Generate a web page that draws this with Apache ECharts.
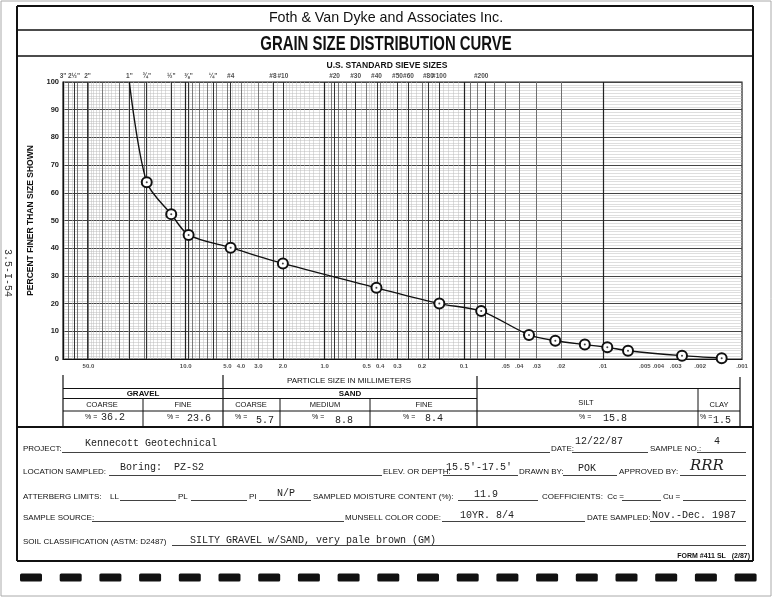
<!DOCTYPE html>
<html>
<head>
<meta charset="utf-8">
<script src="https://cdn.jsdelivr.net/npm/echarts@6/dist/echarts.min.js"></script>
<style>
  html, body { margin: 0; padding: 0; background: #fff; }
  #chart { width: 777px; height: 600px; }
</style>
</head>
<body>
<div id="chart"></div>
<script>
// U.S. standard sieves: opening (mm) and label along the top
const sieveLabels = ['3"', '2½"', '2"', '1"', '¾"', '½"', '⅜"', '¼"', '#4', '#8', '#10', '#20', '#30', '#40', '#50', '#60', '#80', '#100', '#200']
const sieveSizes = [76.2, 63.5, 50.8, 25.4, 19.05, 12.7, 9.525, 6.35, 4.75, 2.36, 2.0, 0.85, 0.6, 0.425, 0.3, 0.25, 0.18, 0.15, 0.075]

// particle size labels along the bottom (mm)
const sizeTicks = [50, 10, 5, 4, 3, 2, 1, 0.5, 0.4, 0.3, 0.2, 0.1, 0.05, 0.04, 0.03, 0.02, 0.01, 0.005, 0.004, 0.003, 0.002, 0.001]
const sizeTickLabels = ['50.0', '10.0', '5.0', '4.0', '3.0', '2.0', '1.0', '0.5', '0.4', '0.3', '0.2', '0.1', '.05', '.04', '.03', '.02', '.01', '.005', '.004', '.003', '.002', '.001']

// test results: grain size (mm) vs percent finer
const grainSize = [25.4, 19.05, 12.7, 9.525, 4.75, 2.0, 0.425, 0.15, 0.075, 0.034, 0.022, 0.0135, 0.0093, 0.0066, 0.0027, 0.0014]
const percentFiner = [100, 63.8, 52.3, 44.8, 40.2, 34.5, 25.7, 20.0, 17.3, 8.7, 6.6, 5.2, 4.2, 3.0, 1.2, 0.3]

// gradation table (gravel coarse/fine, sand coarse/medium/fine, silt, clay)
const fractionPct = ['36.2', '23.6', '5.7', '8.8', '8.4', '15.8', '1.5']

// semi-log graph paper rulings inside each decade
const paperDecades = [-3, -2, -1, 0, 1]
const paperMid = [2, 3, 4, 5, 6, 7, 8, 9]
const paperFine = [1.1, 1.2, 1.3, 1.4, 1.5, 1.6, 1.7, 1.8, 1.9, 2.2, 2.4, 2.6, 2.8, 3.2, 3.4, 3.6, 3.8, 4.2, 4.4, 4.6, 4.8, 5.5, 6.5, 7.5, 8.5, 9.5]

const X_MIN = 0.001
const X_MAX = 76.2
const SANS = '"Liberation Sans", Arial, sans-serif'
const MONO = '"Liberation Mono", "DejaVu Sans Mono", monospace'

const paperLines = (mults) => {
  const out = []
  paperDecades.forEach(d => {
    mults.forEach(m => {
      const v = m * Math.pow(10, d)
      if (v >= X_MIN * 0.999 && v <= X_MAX) out.push({ xAxis: v })
    })
  })
  return out
}

const ruleSeries = (data, color, width) => ({
  type: 'line',
  data: [],
  silent: true,
  z: 1,
  markLine: {
    silent: true,
    animation: false,
    symbol: ['none', 'none'],
    label: { show: false },
    lineStyle: { color, width, type: 'solid' },
    data
  }
})

// --- form drawing helpers ---
const measureCtx = document.createElement('canvas').getContext('2d')
const fontOf = o => (o.italic ? 'italic ' : '') + (o.bold ? 'bold ' : '') + (o.size || 8) + 'px ' + (o.family || SANS)

const gLine = (x1, y1, x2, y2, w, c) => ({
  type: 'line', silent: true, z: 10,
  shape: { x1, y1, x2, y2 },
  style: { stroke: c || '#111', lineWidth: w || 1 }
})
const gText = (x, y, text, o = {}) => ({
  type: 'text', silent: true, z: 10,
  x, y,
  rotation: o.rot || 0,
  style: {
    text,
    fill: o.color || '#111',
    font: fontOf(o),
    textAlign: o.align || 'left',
    textVerticalAlign: 'middle'
  }
})
// horizontally squeezed, centred text (condensed type on the form)
const gTextSqueezed = (cx, y, text, o) => {
  measureCtx.font = fontOf(o)
  const w = measureCtx.measureText(text).width * o.sx
  return {
    type: 'text', silent: true, z: 10,
    x: cx - w / 2, y,
    scaleX: o.sx,
    style: { text, fill: o.color || '#111', font: fontOf(o), textAlign: 'left', textVerticalAlign: 'middle' }
  }
}
const label = (x, y, t) => gText(x, y, t, { size: 8 })
const typed = (x, y, t) => gText(x, y, t, { size: 10, family: MONO, color: '#222' })

const G = []

// scan frame and form border
G.push({ type: 'rect', silent: true, z: 0, shape: { x: 1, y: 1, width: 770, height: 595 }, style: { fill: 'none', stroke: '#aaa', lineWidth: 1 } })
G.push(gLine(17, 6, 753, 6, 2))
G.push(gLine(17, 6, 17, 561, 2))
G.push(gLine(753, 6, 753, 561, 2))
G.push(gLine(17, 30, 753, 30, 1.5))
G.push(gLine(17, 56, 753, 56, 1.5))
G.push(gLine(17, 427, 753, 427, 2))
G.push(gLine(17, 561, 753, 561, 2))

// header
G.push(gTextSqueezed(386, 18, 'Foth & Van Dyke and Associates Inc.', { size: 15, sx: 0.95 }))
G.push(gTextSqueezed(386, 44, 'GRAIN SIZE DISTRIBUTION CURVE', { size: 20, bold: true, sx: 0.745 }))
G.push(gTextSqueezed(387, 65, 'U.S. STANDARD SIEVE SIZES', { size: 9.5, bold: true, sx: 0.9 }))
G.push(gText(8, 273, '3.5-I-54', { size: 10, family: MONO, rot: -Math.PI / 2, align: 'center', color: '#333' }))

// gradation table
G.push(gLine(63, 375, 63, 427, 1.2))
G.push(gLine(223, 375, 223, 427, 1.2))
G.push(gLine(477, 376, 477, 427, 1.2))
G.push(gLine(740, 377, 740, 427, 1.2))
G.push(gLine(63, 388.5, 740, 388.5, 1))
G.push(gLine(63, 398.5, 477, 398.5, 1))
G.push(gLine(63, 411, 740, 411, 1))
G.push(gLine(143, 398.5, 143, 427, 1))
G.push(gLine(280, 398.5, 280, 427, 1))
G.push(gLine(370, 398.5, 370, 427, 1))
G.push(gLine(698, 388.5, 698, 427, 1))
G.push(gText(349, 381, 'PARTICLE SIZE IN MILLIMETERS', { size: 8, align: 'center' }))
G.push(gText(143, 393.5, 'GRAVEL', { size: 8, bold: true, align: 'center' }))
G.push(gText(350, 393.5, 'SAND', { size: 8, bold: true, align: 'center' }))
;[['COARSE', 102], ['FINE', 183], ['COARSE', 251], ['MEDIUM', 325], ['FINE', 424]].forEach(([t, x]) => {
  G.push(gText(x, 405, t, { size: 7.5, align: 'center' }))
})
G.push(gText(586, 403, 'SILT', { size: 7.5, align: 'center' }))
G.push(gText(719, 405, 'CLAY', { size: 7.5, align: 'center' }))
const pctLabelX = [85, 167, 235, 312, 403, 579, 700]
const pctValueX = [101, 187, 256, 335, 425, 603, 713]
const pctValueY = [417.5, 418.5, 420, 420, 418, 418.5, 420]
fractionPct.forEach((v, i) => {
  G.push(gText(pctLabelX[i], 417.5, '% =', { size: 7 }))
  G.push(typed(pctValueX[i], pctValueY[i], v))
})

// form fields
// row 1
G.push(label(23, 449, 'PROJECT:'))
G.push(gLine(62, 452.5, 550, 452.5, 0.8))
G.push(typed(85, 443, 'Kennecott Geotechnical'))
G.push(label(551, 449, 'DATE:'))
G.push(gLine(572, 452.5, 648, 452.5, 0.8))
G.push(typed(575, 441, '12/22/87'))
G.push(label(650, 449, 'SAMPLE NO.:'))
G.push(gLine(697, 452.5, 746, 452.5, 0.8))
G.push(typed(714, 441, '4'))
// row 2
G.push(label(23, 472, 'LOCATION SAMPLED:'))
G.push(gLine(109, 475.5, 382, 475.5, 0.8))
G.push(typed(120, 467, 'Boring:  PZ-S2'))
G.push(label(383, 472, 'ELEV. OR DEPTH:'))
G.push(gLine(443, 475.5, 518, 475.5, 0.8))
G.push(typed(446, 467, "15.5'-17.5'"))
G.push(label(519, 472, 'DRAWN BY:'))
G.push(gLine(563, 475.5, 617, 475.5, 0.8))
G.push(typed(578, 468, 'POK'))
G.push(label(619, 472, 'APPROVED BY:'))
G.push(gLine(680, 475.5, 746, 475.5, 0.8))
G.push(gText(690, 466, 'RRR', { size: 15, italic: true, family: '"DejaVu Serif", serif', color: '#222' }))
// row 3
G.push(label(23, 497, 'ATTERBERG LIMITS:'))
G.push(label(110, 497, 'LL'))
G.push(gLine(120, 500.5, 176, 500.5, 0.8))
G.push(label(178, 497, 'PL'))
G.push(gLine(191, 500.5, 247, 500.5, 0.8))
G.push(label(249, 497, 'PI'))
G.push(gLine(259, 500.5, 311, 500.5, 0.8))
G.push(typed(277, 493, 'N/P'))
G.push(label(313, 497, 'SAMPLED MOISTURE CONTENT (%):'))
G.push(gLine(458, 500.5, 538, 500.5, 0.8))
G.push(typed(474, 494, '11.9'))
G.push(label(542, 497, 'COEFFICIENTS:  Cc ='))
G.push(gLine(622, 500.5, 661, 500.5, 0.8))
G.push(label(663, 497, 'Cu ='))
G.push(gLine(683, 500.5, 746, 500.5, 0.8))
// row 4
G.push(label(23, 518, 'SAMPLE SOURCE:'))
G.push(gLine(92, 521.5, 344, 521.5, 0.8))
G.push(label(345, 518, 'MUNSELL COLOR CODE:'))
G.push(gLine(442, 521.5, 585, 521.5, 0.8))
G.push(typed(460, 515, '10YR. 8/4'))
G.push(label(587, 518, 'DATE SAMPLED:'))
G.push(gLine(650, 521.5, 746, 521.5, 0.8))
G.push(typed(652, 515, 'Nov.-Dec. 1987'))
// row 5
G.push(label(23, 542, 'SOIL CLASSIFICATION (ASTM: D2487)'))
G.push(gLine(172, 545.5, 746, 545.5, 0.8))
G.push(typed(190, 540, 'SILTY GRAVEL w/SAND, very pale brown (GM)'))
G.push(gText(750, 556, 'FORM #411 SL   (2/87)', { size: 7, bold: true, align: 'right' }))

// perforation marks along the bottom
for (let i = 0; i < 19; i++) {
  G.push({ type: 'rect', silent: true, z: 10, shape: { x: 20 + i * 39.7, y: 573.5, width: 22, height: 8, r: 1.5 }, style: { fill: '#111' } })
}

const chart = echarts.init(document.getElementById('chart'))

const option = {
  backgroundColor: '#fff',
  animation: false,
  grid: {
    left: 63, right: 35, top: 82, bottom: 241,
    show: true, borderColor: '#222', borderWidth: 1.2
  },
  xAxis: {
    type: 'log',
    logBase: 10,
    inverse: true,
    min: X_MIN,
    max: X_MAX,
    axisLine: { show: true, lineStyle: { color: '#111', width: 1.2 } },
    axisTick: { show: false },
    axisLabel: { show: false },
    splitLine: { show: false }
  },
  yAxis: {
    type: 'value',
    min: 0,
    max: 100,
    interval: 10,
    name: 'PERCENT FINER THAN SIZE SHOWN',
    nameLocation: 'middle',
    nameGap: 26,
    nameTextStyle: { fontSize: 8.5, fontWeight: 'bold', color: '#111', fontFamily: SANS },
    axisLine: { show: true, lineStyle: { color: '#111', width: 1.2 } },
    axisTick: { show: false },
    axisLabel: { fontSize: 7.5, fontWeight: 'bold', color: '#222', margin: 4, fontFamily: SANS },
    splitLine: { lineStyle: { color: '#444', width: 1 } },
    minorTick: { show: false, splitNumber: 10 },
    minorSplitLine: { show: true, lineStyle: { color: '#bcbcbc', width: 0.5 } }
  },
  series: [
    ruleSeries(paperLines(paperFine), '#bcbcbc', 0.5),
    ruleSeries(paperLines(paperMid), '#5a5a5a', 0.8),
    ruleSeries(paperLines([1]), '#222', 1.2),
    ruleSeries(sieveSizes.filter(s => s < X_MAX).map(s => ({ xAxis: s })), '#333', 1),
    {
      // sieve labels above the grid
      type: 'scatter',
      silent: true,
      clip: false,
      z: 3,
      symbolSize: 0.1,
      itemStyle: { color: 'transparent' },
      data: sieveSizes.map(s => [s, 100]),
      label: {
        show: true, position: 'top', distance: 2,
        formatter: p => sieveLabels[p.dataIndex],
        fontSize: 6.5, fontWeight: 'bold', color: '#222', fontFamily: SANS
      }
    },
    {
      // particle size labels below the grid
      type: 'scatter',
      silent: true,
      clip: false,
      z: 3,
      symbolSize: 0.1,
      itemStyle: { color: 'transparent' },
      data: sizeTicks.map(s => [s, 0]),
      label: {
        show: true, position: 'bottom', distance: 4,
        formatter: p => sizeTickLabels[p.dataIndex],
        fontSize: 6, fontWeight: 'bold', color: '#222', fontFamily: SANS
      }
    },
    {
      name: 'Percent finer',
      type: 'line',
      z: 5,
      smooth: 0.3,
      symbolSize: 10,
      lineStyle: { color: '#111', width: 1.4 },
      itemStyle: { color: '#111', borderWidth: 1.2 },
      data: grainSize.map((s, i) => ({
        value: [s, percentFiner[i]],
        symbol: i === 0 ? 'none' : 'emptyCircle'
      }))
    },
    {
      // centre dots inside the plotted circles
      type: 'scatter',
      silent: true,
      z: 6,
      symbolSize: 2,
      itemStyle: { color: '#111' },
      data: grainSize.slice(1).map((s, i) => [s, percentFiner[i + 1]])
    }
  ],
  graphic: { elements: G }
}

chart.setOption(option)
</script>
</body>
</html>
